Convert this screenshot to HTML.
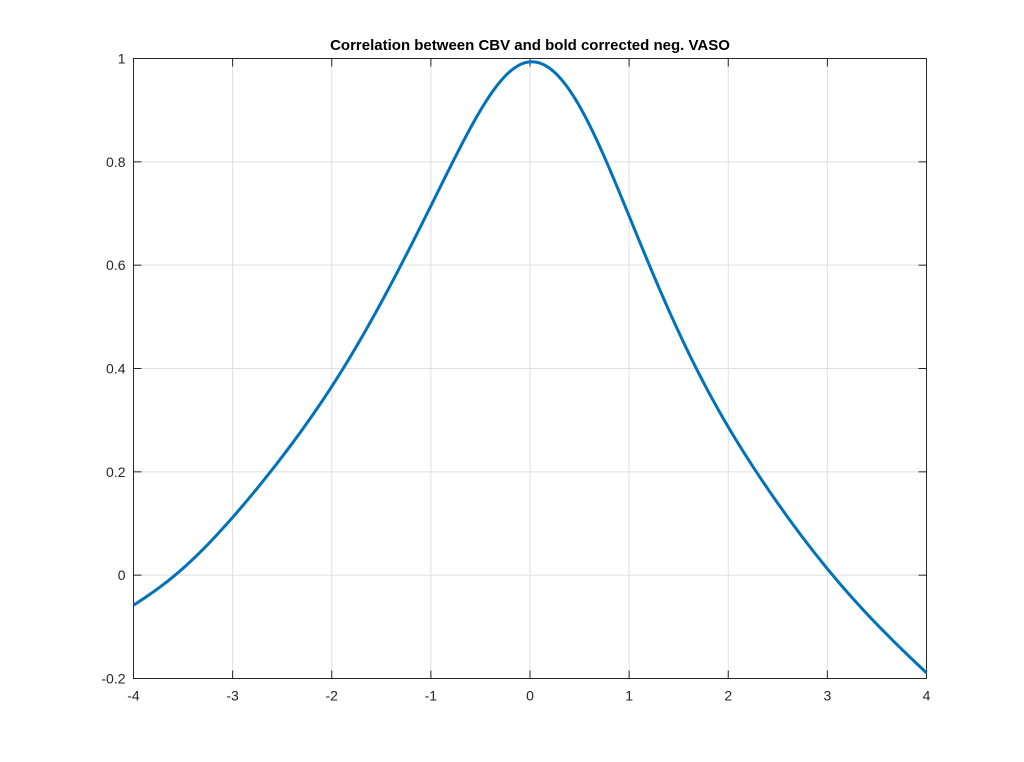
<!DOCTYPE html>
<html><head><meta charset="utf-8"><style>body{margin:0;background:#fff}svg{display:block}</style></head>
<body>
<svg id="s" width="1024" height="762" xmlns="http://www.w3.org/2000/svg" font-family="Liberation Sans, sans-serif">
<rect width="1024" height="762" fill="#fff"/>
<g id="grid" stroke="#dfdfdf" stroke-width="1"></g>
<rect x="133.5" y="58.5" width="793" height="620" fill="none" stroke="#262626" stroke-width="1"/>
<g id="ticks" stroke="#262626" stroke-width="1"></g>
<g id="lab" font-size="14" fill="#262626"></g>
<path id="curve" fill="none" stroke="#0072bd" stroke-width="3" stroke-linejoin="round"/>
<text x="530" y="50" text-anchor="middle" font-size="15" font-weight="bold" fill="#000">Correlation between CBV and bold corrected neg. VASO</text>
</svg>
<script>
var L=133.5,R=926.5,T=58.5,B=678.5;
function px(x){return L+(x+4)/8*(R-L);}
function py(y){return B-(y+0.2)/1.2*(B-T);}
var g=document.getElementById('grid'),t=document.getElementById('ticks'),lb=document.getElementById('lab'),h='',tk='',lh='';
for(var i=-4;i<=4;i++){var X=px(i);h+='<line x1="'+X+'" y1="'+T+'" x2="'+X+'" y2="'+B+'"/>';tk+='<line x1="'+X+'" y1="'+B+'" x2="'+X+'" y2="'+(B-8)+'"/><line x1="'+X+'" y1="'+T+'" x2="'+X+'" y2="'+(T+8)+'"/>';lh+='<text x="'+X+'" y="'+(B+22)+'" text-anchor="middle">'+i+'</text>';}
var yl=[-0.2,0,0.2,0.4,0.6,0.8,1],ys=['-0.2','0','0.2','0.4','0.6','0.8','1'];
for(var j=0;j<yl.length;j++){var Y=py(yl[j]);h+='<line x1="'+L+'" y1="'+Y+'" x2="'+R+'" y2="'+Y+'"/>';tk+='<line x1="'+L+'" y1="'+Y+'" x2="'+(L+8)+'" y2="'+Y+'"/><line x1="'+R+'" y1="'+Y+'" x2="'+(R-8)+'" y2="'+Y+'"/>';lh+='<text x="'+(L-8)+'" y="'+(Y+5)+'" text-anchor="end">'+ys[j]+'</text>';}
g.innerHTML=h;t.innerHTML=tk;lb.innerHTML=lh;
var V=[-0.058,-0.025,0.009,0.060,0.115,0.172,0.233,0.300,0.367,0.446,0.532,0.620,0.711,0.801,0.892,0.963,1.0,0.971,0.912,0.809,0.691,0.576,0.470,0.372,0.289,0.214,0.143,0.076,0.014,-0.043,-0.094,-0.141,-0.190];
function base(x){return -0.4+1.4/(1+0.27*x*x);}
var N=V.length,X=[],Rs=[];
for(var k=0;k<N;k++){X.push(-4+k*0.25);Rs.push(V[k]-base(X[k]));}
function res(x){var s=0.3,S0=0,S1=0,S2=0,T0=0,T1=0;
for(var k=0;k<N;k++){var dx=X[k]-x,w=Math.exp(-dx*dx/(2*s*s));S0+=w;S1+=w*dx;S2+=w*dx*dx;T0+=w*Rs[k];T1+=w*dx*Rs[k];}
var det=S0*S2-S1*S1;return (T0*S2-T1*S1)/det;}
var d='';for(var m=0;m<=400;m++){var x=-4+m*0.02;d+=(m?' L':'M')+px(x).toFixed(2)+','+py(base(x)+res(x)).toFixed(2);}
document.getElementById('curve').setAttribute('d',d);
</script>
</body></html>
